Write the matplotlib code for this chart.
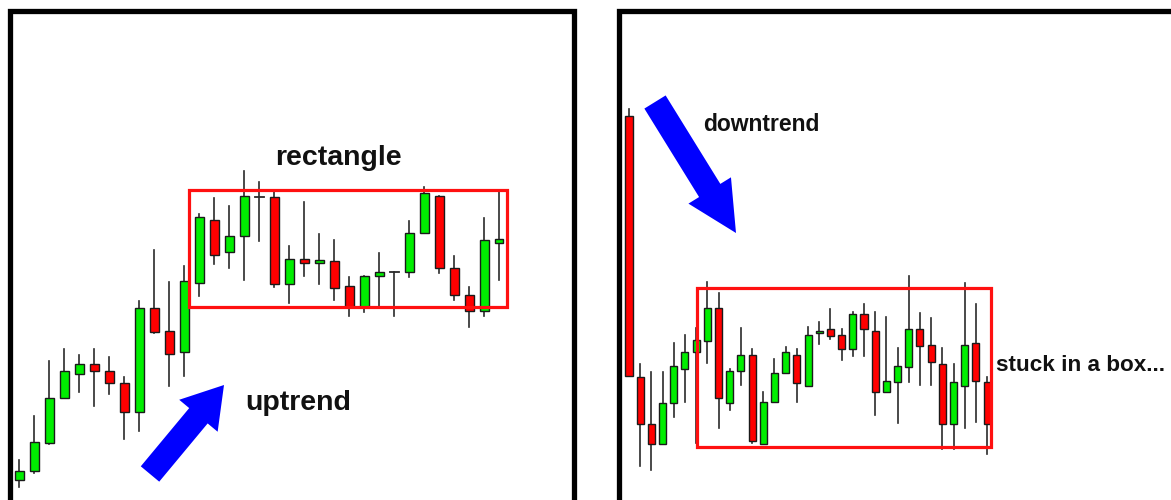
import matplotlib
matplotlib.use('Agg')
import matplotlib.pyplot as plt
from matplotlib.patches import Rectangle, FancyArrow

# left chart: uptrend then rectangle (open, high, low, close)
left_open = [20, 29, 57, 102, 126, 136, 129, 117, 88, 192, 169, 148, 217, 280, 248, 264, 303,
             303, 216, 241, 237, 239, 214, 193, 224, 228, 228, 267, 304, 232, 205, 189, 257]
left_high = [40, 84, 139, 151, 145, 151, 143, 123, 199, 250, 218, 234, 286, 302, 294, 329, 318,
             308, 254, 298, 266, 260, 223, 224, 247, 228, 279, 313, 304, 244, 213, 282, 308]
left_low = [13, 27, 56, 102, 108, 94, 106, 61, 69, 167, 114, 124, 204, 236, 232, 220, 259,
            213, 197, 224, 216, 200, 184, 188, 194, 184, 223, 267, 227, 200, 173, 184, 220]
left_close = [29, 58, 102, 129, 136, 129, 117, 88, 192, 168, 146, 219, 283, 245, 264, 304, 303,
              216, 241, 237, 240, 212, 193, 224, 228, 228, 267, 307, 232, 205, 189, 260, 261]

# right chart: downtrend then box
right_open = [384, 123, 76, 56, 97, 131, 148, 159, 192, 97, 129, 145, 56, 98, 127, 145, 114,
              167, 171, 165, 151, 186, 169, 108, 118, 133, 171, 155, 136, 76, 114, 157, 118]
right_high = [391, 136, 128, 128, 157, 165, 172, 218, 207, 131, 172, 151, 108, 141, 153, 151, 173,
              178, 191, 171, 188, 196, 188, 183, 152, 224, 187, 182, 152, 136, 217, 196, 123]
right_low = [124, 34, 30, 56, 83, 98, 57, 137, 72, 90, 115, 57, 56, 98, 127, 98, 114,
             156, 161, 140, 144, 144, 85, 108, 77, 118, 115, 115, 51, 51, 72, 78, 46]
right_close = [124, 76, 56, 97, 134, 148, 160, 192, 102, 129, 145, 59, 98, 127, 148, 117, 165,
               169, 164, 151, 186, 171, 108, 119, 134, 171, 154, 138, 76, 118, 155, 119, 76]

left_box = [11.3, 32.5, 193, 310]     # x0, x1, low, high
right_box = [6.1, 32.35, 53, 212]

W, H = 1171, 500
fig = plt.figure(figsize=(W / 100, H / 100), dpi=100)
fig.patch.set_facecolor('white')


def candles(ax, o, h, l, c, width):
    for i in range(len(o)):
        ax.plot([i, i], [l[i], h[i]], color='#2a2a2a', lw=1.2, zorder=1)
        col = '#00ee00' if c[i] > o[i] else '#ff0000'
        bot = min(o[i], c[i])
        ht = abs(c[i] - o[i])
        if ht == 0:
            ax.plot([i - width / 2, i + width / 2], [o[i], o[i]], color='#2a2a2a', lw=1.3, zorder=2)
        else:
            ax.add_patch(Rectangle((i - width / 2, bot), width, ht, facecolor=col,
                                   edgecolor='#1a1a1a', lw=1.0, zorder=2))


# left panel axes: candle i sits at pixel 19 + 15*i
axL = fig.add_axes([0, 0, 1, 1])
axL.set_xlim(-19 / 15, (W - 19) / 15)
axL.set_ylim(0, H)
axL.axis('off')
candles(axL, left_open, left_high, left_low, left_close, 0.6)
axL.add_patch(Rectangle((left_box[0], left_box[2]), left_box[1] - left_box[0],
                        left_box[3] - left_box[2], fill=False, edgecolor='#ff1010', lw=2.3, zorder=3))

# right panel axes: candle i sits at pixel 629 + 11.19*i
axR = fig.add_axes([0, 0, 1, 1])
axR.set_xlim(-629 / 11.19, (W - 629) / 11.19)
axR.set_ylim(0, H)
axR.axis('off')
candles(axR, right_open, right_high, right_low, right_close, 0.63)
axR.add_patch(Rectangle((right_box[0], right_box[2]), right_box[1] - right_box[0],
                        right_box[3] - right_box[2], fill=False, edgecolor='#ff1010', lw=2.3, zorder=3))

# overlay in pixel coords for frames, arrows, labels
ov = fig.add_axes([0, 0, 1, 1])
ov.set_xlim(0, W)
ov.set_ylim(H, 0)
ov.axis('off')
ov.patch.set_alpha(0)

ov.plot([9.5, 9.5, 573.5, 573.5], [H + 5, 10.5, 10.5, H + 5], color='black', lw=3.8,
        solid_joinstyle='miter')
ov.plot([618.5, 618.5, W + 10], [H + 5, 10.5, 10.5], color='black', lw=3.8,
        solid_joinstyle='miter')

ov.add_patch(FancyArrow(150, 474, 74, -89, width=24, head_width=50, head_length=40,
                        length_includes_head=True, color='#0000ff', lw=0))
ov.add_patch(FancyArrow(655, 102, 81, 131, width=25, head_width=50, head_length=50,
                        length_includes_head=True, color='#0000ff', lw=0))

ov.text(338, 165, 'rectangle', ha='center', va='baseline', fontsize=20.5,
        fontweight='bold', family='Liberation Sans', color='#111111')
ov.text(245, 410, 'uptrend', ha='left', va='baseline', fontsize=20.5,
        fontweight='bold', family='Liberation Sans', color='#111111')
ov.text(703, 131, 'downtrend', ha='left', va='baseline', fontsize=16.5,
        fontweight='bold', family='Liberation Sans', color='#111111')
ov.text(996, 371, 'stuck in a box...', ha='left', va='baseline', fontsize=16.2,
        fontweight='bold', family='Liberation Sans', color='#111111')

fig.savefig('out.png', dpi=100)
